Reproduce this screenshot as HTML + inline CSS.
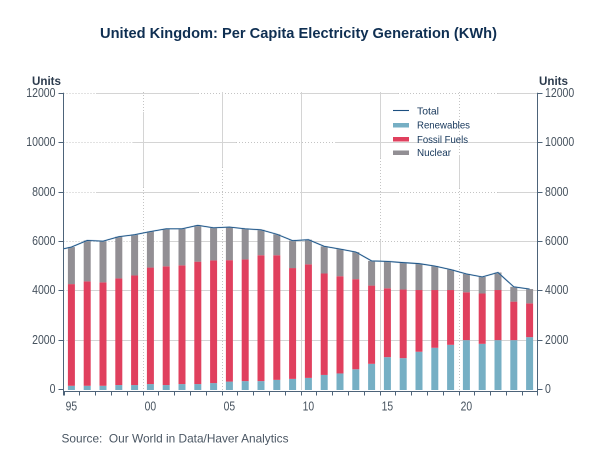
<!DOCTYPE html>
<html lang="en">
<head>
<meta charset="utf-8">
<title>United Kingdom: Per Capita Electricity Generation (KWh)</title>
<style>
html,body{margin:0;padding:0;background:#fff;}
#chart{display:block;width:602px;height:451px;}
text{font-family:"Liberation Sans",sans-serif;}
</style>
</head>
<body>
<svg id="chart" xmlns="http://www.w3.org/2000/svg" width="602" height="451" viewBox="0 0 602 451">
  <text x="100" y="38" font-size="15" font-weight="700" fill="#0f2f52" textLength="397" lengthAdjust="spacingAndGlyphs">United Kingdom: Per Capita Electricity Generation (KWh)</text>
  <text x="32" y="85" font-size="11.5" font-weight="700" fill="#2b3a4c" textLength="29" lengthAdjust="spacingAndGlyphs">Units</text>
  <text x="539" y="85" font-size="11.5" font-weight="700" fill="#2b3a4c" textLength="29" lengthAdjust="spacingAndGlyphs">Units</text>
  <g id="grid"></g>
  <g id="bars"></g>
  <g id="axes"></g>
  <path id="total-halo" fill="none" stroke="#8fb0cc" stroke-opacity="0.55" stroke-width="1.7"></path>
  <path id="total-line" fill="none" stroke="#1c5386" stroke-width="0.9"></path>
  <g>
    <line x1="393" x2="409" y1="110.5" y2="110.5" stroke="#1c4f80" stroke-width="1.1"></line>
    <text x="417" y="114.5" font-size="10.5" fill="#15365a" textLength="22" lengthAdjust="spacingAndGlyphs">Total</text>
    <rect x="393" y="123" width="16" height="4.5" fill="#76afc4"></rect>
    <text x="417" y="128.7" font-size="10.5" fill="#15365a" textLength="53" lengthAdjust="spacingAndGlyphs">Renewables</text>
    <rect x="393" y="137" width="16" height="4.5" fill="#e0405e"></rect>
    <text x="417" y="143" font-size="10.5" fill="#15365a" textLength="51" lengthAdjust="spacingAndGlyphs">Fossil Fuels</text>
    <rect x="393" y="150.5" width="16" height="4.5" fill="#928f94"></rect>
    <text x="417" y="156" font-size="10.5" fill="#15365a" textLength="34" lengthAdjust="spacingAndGlyphs">Nuclear</text>
  </g>
  <text x="61.5" y="442.5" font-size="12" fill="#4a5663" textLength="227" lengthAdjust="spacingAndGlyphs" xml:space="preserve">Source:  Our World in Data/Haver Analytics</text>
</svg>
<script>
const years = [1995,1996,1997,1998,1999,2000,2001,2002,2003,2004,2005,2006,2007,2008,2009,2010,2011,2012,2013,2014,2015,2016,2017,2018,2019,2020,2021,2022,2023,2024];
const renewables = [150,150,150,180,180,220,180,220,220,260,320,340,340,390,430,470,590,650,820,1040,1310,1270,1530,1690,1810,2000,1850,2000,2000,2120];
const fossilFuels = [4120,4230,4190,4320,4440,4720,4810,4810,4960,4970,4920,4930,5100,5050,4490,4600,4110,3940,3650,3170,2790,2780,2500,2340,2220,1940,2040,2030,1560,1370];
const nuclear = [1500,1660,1670,1690,1650,1460,1520,1480,1470,1320,1340,1240,1030,850,1110,1000,1100,1100,1100,1000,1090,1090,1070,970,830,740,670,710,600,580];
const total = [5770,6040,6010,6190,6270,6400,6510,6510,6650,6550,6580,6510,6470,6290,6030,6070,5800,5690,5570,5210,5190,5140,5100,5000,4860,4680,4560,4740,4160,4070];
const totalAtAxisStart = 5700;
const yTicks = [0,2000,4000,6000,8000,10000,12000];
const xLabelYears = [1995,2000,2005,2010,2015,2020];

const SVGNS = 'http://www.w3.org/2000/svg';
const plotLeft = 63.5, plotRight = 537.5, yZero = 389.5, yTop = 93.3, yMax = 12000, axisY = 391.5;
const slot = (plotRight - plotLeft) / years.length;
const barW = 7;
function xStart(i){ return plotLeft + i * slot; }
function xCenter(i){ return plotLeft + (i + 0.5) * slot; }
function yScale(v){ return yZero - (v / yMax) * (yZero - yTop); }
function svgEl(tag, attrs, parent){
  const el = document.createElementNS(SVGNS, tag);
  for (const k in attrs) el.setAttribute(k, attrs[k]);
  parent.appendChild(el);
  return el;
}

/* gridlines: solid with dotted stretches, as in the reference */
const gridH = document.getElementById('grid');
const hRuns = {
  12000:[[63.5,96,'d'],[96,198,'s'],[198,300,'d'],[300,398,'s'],[398,498,'d'],[498,537.5,'s']],
  10000:[[63.5,133,'d'],[133,236,'s'],[236,335,'d'],[335,537.5,'s']],
  8000:[[63.5,96,'d'],[96,198,'s'],[198,300,'d'],[300,398,'s'],[398,498,'d'],[498,537.5,'s']],
  6000:[[63.5,160,'d'],[160,361,'s'],[361,458,'d'],[458,537.5,'s']],
  4000:[[63.5,75,'d'],[75,537.5,'s']],
  2000:[[63.5,75,'d'],[75,537.5,'s']]
};
const vRuns = [
  [[92,112,'d'],[112,187,'s'],[187,340,'d'],[340,390,'d']],
  [[92,167,'s'],[167,320,'d'],[320,390,'d']],
  [[92,390,'s']],
  [[92,158,'s'],[158,240,'d'],[240,390,'s']],
  [[92,155,'d'],[155,188,'s'],[188,390,'d']]
];
function gridStyle(kind){
  return kind === 'd'
    ? {stroke:'#c4c4c4','stroke-width':1,'stroke-dasharray':'1 2'}
    : {stroke:'#d4d4d4','stroke-width':1};
}
yTicks.forEach(function(v){
  const runs = hRuns[v];
  if (!runs) return;
  const y = Math.floor(yScale(v)) + 0.5;
  runs.forEach(function(r){
    const ln = svgEl('line', Object.assign({x1:r[0],x2:r[1],y1:y,y2:y}, gridStyle(r[2])), gridH);
    
    
  });
});
xLabelYears.slice(1).forEach(function(yr, n){
  const x = Math.round(xStart(years.indexOf(yr))) + 0.5;
  vRuns[n].forEach(function(r){
    const ln = svgEl('line', Object.assign({x1:x,x2:x,y1:r[0],y2:r[1]}, gridStyle(r[2])), gridH);
    
    
  });
});

/* stacked bars */
const barsG = document.getElementById('bars');
const stackColors = {renewables:'#76afc4', fossil:'#e0405e', nuclear:'#928f94'};
years.forEach(function(yr, i){
  const x = xCenter(i) - barW / 2;
  const base1 = renewables[i];
  const base2 = base1 + fossilFuels[i];
  const base3 = base2 + nuclear[i];
  const r1 = svgEl('rect', {x:x, width:barW, y:yScale(base1), height:yScale(0) - yScale(base1) + 0.5, fill:stackColors.renewables}, barsG);
  
  
  const r2 = svgEl('rect', {x:x, width:barW, y:yScale(base2), height:yScale(base1) - yScale(base2), fill:stackColors.fossil}, barsG);
  
  
  const r3 = svgEl('rect', {x:x, width:barW, y:yScale(base3), height:yScale(base2) - yScale(base3), fill:stackColors.nuclear}, barsG);
  
  
});

/* total line */
let d = 'M' + plotLeft + ' ' + yScale(totalAtAxisStart).toFixed(2);
total.forEach(function(v, i){
  d += ' L' + xCenter(i).toFixed(2) + ' ' + yScale(v).toFixed(2);
});
document.getElementById('total-halo').setAttribute('d', d);
document.getElementById('total-line').setAttribute('d', d);

/* axes */
const axesG = document.getElementById('axes');
const axisColor = '#4d6379';
const leftAxis = svgEl('line', {x1:plotLeft,x2:plotLeft,y1:yTop - 0.5,y2:axisY + 4,stroke:axisColor,'stroke-width':1}, axesG);


const rightAxis = svgEl('line', {x1:plotRight,x2:plotRight,y1:yTop - 0.5,y2:axisY + 4,stroke:axisColor,'stroke-width':1}, axesG);


const bottomAxis = svgEl('line', {x1:plotLeft,x2:plotRight,y1:axisY,y2:axisY,stroke:axisColor,'stroke-width':1}, axesG);



yTicks.forEach(function(v){
  const y = Math.floor(yScale(v)) + 0.5;
  const t1 = svgEl('line', {x1:plotLeft - 5,x2:plotLeft,y1:y,y2:y,stroke:axisColor,'stroke-width':1}, axesG);
  
  
  const t2 = svgEl('line', {x1:plotRight,x2:plotRight + 5,y1:y,y2:y,stroke:axisColor,'stroke-width':1}, axesG);
  
  
  const w = String(v).length * 5.85;
  const l = svgEl('text', {x:55.5,y:y + 3.4,'text-anchor':'end','font-size':12.5,fill:'#46525e',textLength:w,lengthAdjust:'spacingAndGlyphs'}, axesG);
  
  
  l.textContent = String(v);
  const r = svgEl('text', {x:545,y:y + 3.4,'font-size':12.5,fill:'#46525e',textLength:w,lengthAdjust:'spacingAndGlyphs'}, axesG);
  
  
  r.textContent = String(v);
});
years.forEach(function(yr, i){
  const x = Math.round(xStart(i)) + 0.5;
  const t = svgEl('line', {x1:x,x2:x,y1:axisY,y2:axisY + 4,stroke:axisColor,'stroke-width':1}, axesG);
  
  
});
xLabelYears.forEach(function(yr){
  const i = years.indexOf(yr);
  const l = svgEl('text', {x:xCenter(i),y:410.5,'text-anchor':'middle','font-size':12.5,fill:'#46525e',textLength:11.5,lengthAdjust:'spacingAndGlyphs'}, axesG);
  
  
  l.textContent = String(yr).slice(2);
});
</script>
</body>
</html>
